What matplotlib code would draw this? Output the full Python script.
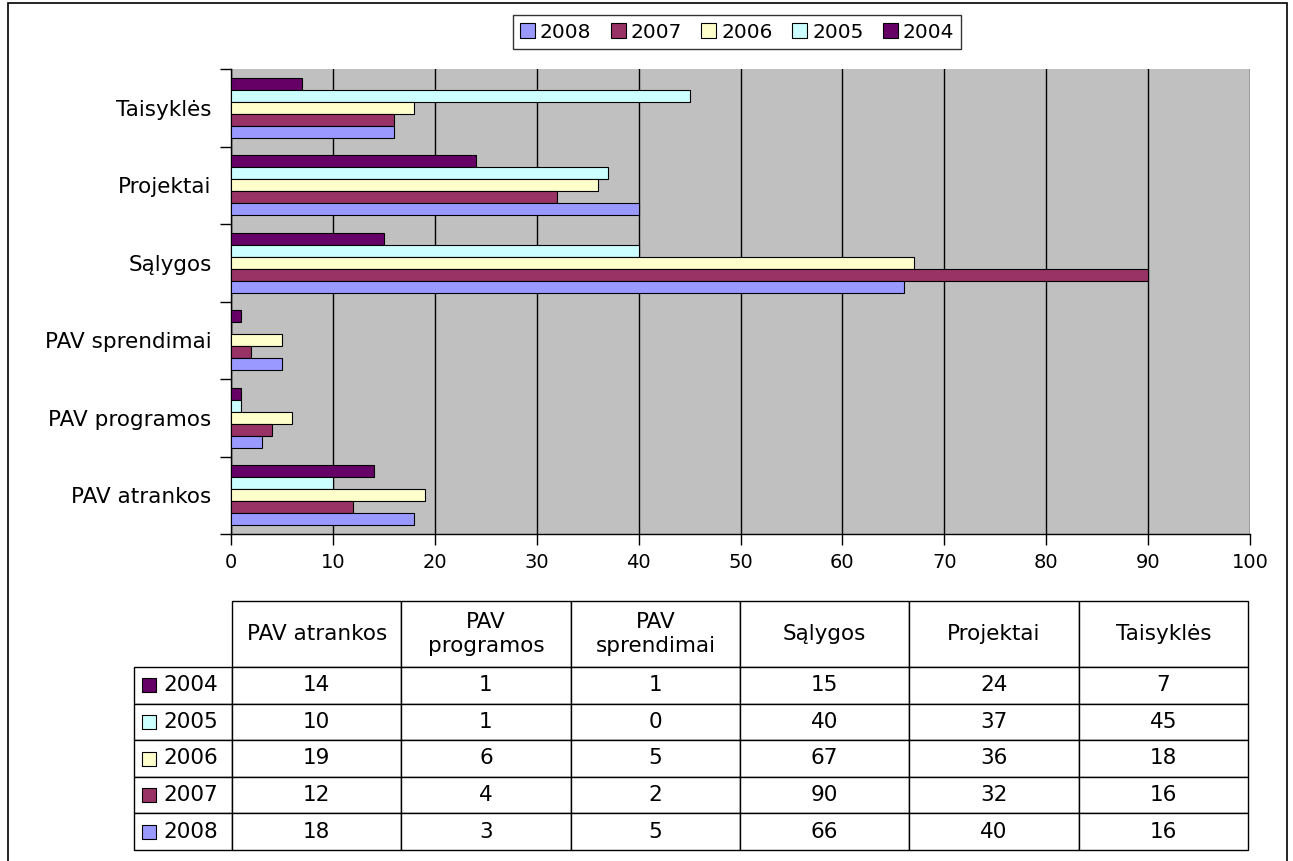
import matplotlib
matplotlib.use("Agg")
import matplotlib.pyplot as plt
from matplotlib.patches import Patch, Rectangle
import numpy as np

plt.rcParams['font.family'] = ['DejaVu Sans']

categories = ["PAV atrankos", "PAV programos", "PAV sprendimai", "Sąlygos", "Projektai", "Taisyklės"]
header_labels = ["PAV atrankos", "PAV\nprogramos", "PAV\nsprendimai", "Sąlygos", "Projektai", "Taisyklės"]
years = ["2004", "2005", "2006", "2007", "2008"]
v2004 = [14, 1, 1, 15, 24, 7]
v2005 = [10, 1, 0, 40, 37, 45]
v2006 = [19, 6, 5, 67, 36, 18]
v2007 = [12, 4, 2, 90, 32, 16]
v2008 = [18, 3, 5, 66, 40, 16]
values = [v2004, v2005, v2006, v2007, v2008]
colors = ["#660066", "#CCFFFF", "#FFFFCC", "#993366", "#9999FF"]

W, H = 1293, 861
fig = plt.figure(figsize=(W / 100, H / 100), dpi=100)
fig.patches.append(Rectangle((8 / W, -0.01), 1279 / W, 1.01 - 3 / H,
                             transform=fig.transFigure, fill=False,
                             edgecolor="black", linewidth=1.2))

ax = fig.add_axes([231 / W, 1 - 534 / H, 1019 / W, 465 / H])
ax.set_facecolor("#C0C0C0")

n = len(years)
h = 1 / 6.5
y = np.arange(len(categories))
for k in range(n):
    j = n - 1 - k  # 2004 on top within group
    ax.barh(y + (j - (n - 1) / 2) * h, values[k], height=h, color=colors[k],
            edgecolor="black", linewidth=0.8, zorder=3)

ax.set_xlim(0, 100)
ax.set_ylim(-0.5, len(categories) - 0.5)
ax.set_xticks(np.arange(0, 101, 10))
ax.xaxis.grid(True, color="black", linewidth=1)
ax.set_axisbelow(True)
ax.set_yticks(np.arange(-0.5, len(categories), 1))
ax.set_yticklabels([])
ax.set_yticks(y, minor=True)
ax.set_yticklabels(categories, minor=True, fontsize=15.5)
ax.tick_params(axis="y", which="minor", length=0, pad=14)
ax.tick_params(axis="y", which="major", length=8, width=1, direction="out")
ax.tick_params(axis="x", length=8, width=1, direction="out", labelsize=14, pad=6)
for s in ["top", "right"]:
    ax.spines[s].set_visible(False)
for s in ["left", "bottom"]:
    ax.spines[s].set_color("black")
    ax.spines[s].set_linewidth(1)

# legend
order = [4, 3, 2, 1, 0]
handles = [Patch(facecolor=colors[i], edgecolor="black", linewidth=0.8) for i in order]
leg = fig.legend(handles, [years[i] for i in order], loc="center",
                 bbox_to_anchor=(737 / W, 1 - 32 / H), ncol=5, fontsize=14.5,
                 frameon=True, fancybox=False, handlelength=0.75, handleheight=0.75,
                 handletextpad=0.25, columnspacing=0.95, borderpad=0.35)
leg.get_frame().set_edgecolor("black")
leg.get_frame().set_linewidth(1)

# table
tab_left, tab_right, tab_top, tab_bottom = 134, 1248, 601, 850
tab = fig.add_axes([tab_left / W, 1 - tab_bottom / H,
                    (tab_right - tab_left) / W, (tab_bottom - tab_top) / H])
tab.axis("off")
cell_text = [[""] + header_labels]
for k in range(n):
    cell_text.append([years[k]] + [str(v) for v in values[k]])
table = tab.table(cellText=cell_text, bbox=[0, 0, 1, 1], cellLoc="center")
table.auto_set_font_size(False)
label_w = 232 - tab_left
col_w = (tab_right - 232) / 6
head_h = 66
row_h = (tab_bottom - tab_top - head_h) / n
for (r, c), cell in table.get_celld().items():
    cell.set_width(label_w if c == 0 else col_w)
    cell.set_height(head_h if r == 0 else row_h)
    cell.set_linewidth(1)
    cell.set_edgecolor("black")
    cell.get_text().set_fontsize(15.5)
    if c == 0:
        cell.get_text().set_horizontalalignment("left")
        cell.PAD = 29 / label_w
    if r == 0 and c == 0:
        cell.visible_edges = ""

total_w = label_w + 6 * col_w
total_h = head_h + n * row_h
for k in range(n):
    yc = 1 - (head_h + row_h * k + row_h / 2) / total_h
    tab.scatter([15 / total_w], [yc], marker="s", s=90, color=colors[k],
                edgecolors="black", linewidths=0.8, transform=tab.transAxes,
                zorder=5, clip_on=False)

fig.savefig("out.png", dpi=100)
